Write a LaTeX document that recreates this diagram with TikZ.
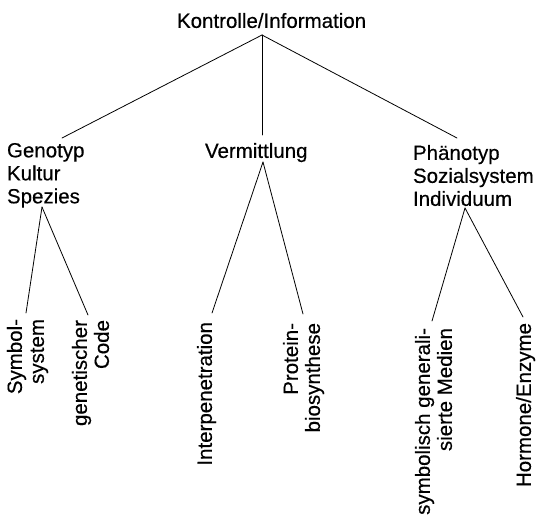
\documentclass[tikz,border=0pt]{standalone}
\usepackage{fontspec}
\setmainfont{Liberation Sans}
\newfontfamily\diagfont{Liberation Sans}[FakeBold=0.4]
\usetikzlibrary{calc}
\tikzset{
  lbl/.style={inner sep=0pt, outer sep=0pt, font=\diagfont\fontsize{20.5}{23}\selectfont, align=left},
  vlbl/.style={inner sep=0pt, outer sep=0pt, font=\diagfont\fontsize{20.5}{22}\selectfont, align=right, rotate=90, anchor=north east},
  edge/.style={line width=0.8pt, line cap=round}
}
\begin{document}
\begin{tikzpicture}[x=1pt,y=-1pt]
\useasboundingbox (0,0) rectangle (537,520);
% level 0
\node[lbl, anchor=north west] (top) at (177,13) {Kontrolle/Information};
% level 1
\node[lbl, anchor=north west] (geno) at (7,143) {Genotyp\\Kultur\\Spezies};
\node[lbl, anchor=north west] (verm) at (205,143) {Vermittlung};
\node[lbl, anchor=north west] (phan) at (413,145) {Phänotyp\\Sozialsystem\\Individuum};
% level 2
\node[vlbl] (sym) at (7,319) {Symbol-\\system};
\node[vlbl] (gen) at (72,320) {genetischer\\Code};
\node[vlbl] (int) at (197,322) {Interpenetration};
\node[vlbl] (prot) at (283,323) {Protein-\\biosynthese};
\node[vlbl] (symb) at (415,328) {symbolisch generali-\\sierte Medien};
\node[vlbl] (horm) at (516,323) {Hormone/Enzyme};
% connectors
\coordinate (root) at ($(top.north west)+(85,22)$);
\draw[edge] (root) -- ($(geno.north west)+(55,-5)$);
\draw[edge] (root) -- ($(verm.north west)+(57,-8)$);
\draw[edge] (root) -- ($(phan.north west)+(44,-7)$);
\coordinate (gsplit) at ($(geno.north west)+(35,64)$);
\coordinate (vsplit) at ($(verm.north west)+(58,19)$);
\coordinate (psplit) at ($(phan.north west)+(52,63)$);
\draw[edge] (gsplit) -- ($(sym.north east)+(19,-6)$);
\draw[edge] (gsplit) -- ($(gen.north east)+(16,-5)$);
\draw[edge] (vsplit) -- ($(int.north east)+(15,-9)$);
\draw[edge] (vsplit) -- ($(prot.north east)+(20,-9)$);
\draw[edge] (psplit) -- ($(symb.north east)+(17,-7)$);
\draw[edge] (psplit) -- ($(horm.north east)+(7,-6)$);
\end{tikzpicture}
\end{document}
